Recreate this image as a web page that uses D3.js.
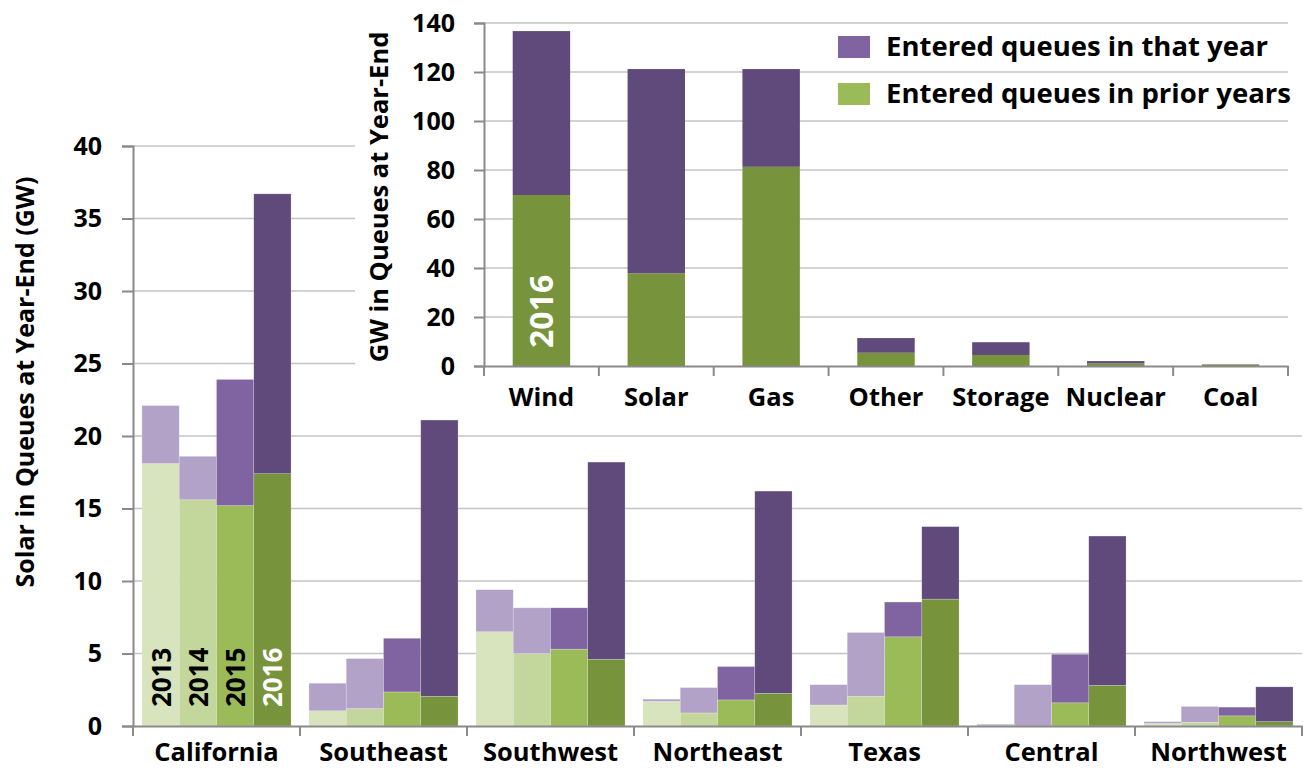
<!DOCTYPE html>
<html>
<head>
<meta charset="utf-8">
<title>Solar in Queues</title>
<style>
  body { margin: 0; background: #fff; }
  text { font-family: "Open Sans", Lato, sans-serif; font-weight: bold; fill: #000; }
</style>
</head>
<body>
<script src="https://d3js.org/d3.v7.min.js"></script>
<script>

// main chart: solar GW in queues by region and year
var regions = ["California", "Southeast", "Southwest", "Northeast", "Texas", "Central", "Northwest"];
var years = ["2013", "2014", "2015", "2016"];

// entered queues in prior years (green), one value per region
var prior2013 = [18.1, 1.05, 6.5, 1.7, 1.45, 0.02, 0.18];
var prior2014 = [15.6, 1.2, 5.0, 0.9, 2.05, 0, 0.25];
var prior2015 = [15.2, 2.35, 5.3, 1.8, 6.15, 1.6, 0.7];
var prior2016 = [17.4, 2.05, 4.6, 2.25, 8.75, 2.8, 0.3];

// entered queues in that year (purple)
var new2013 = [4.0, 1.9, 2.9, 0.15, 1.4, 0.1, 0.12];
var new2014 = [3.0, 3.45, 3.15, 1.75, 4.4, 2.85, 1.1];
var new2015 = [8.7, 3.7, 2.85, 2.3, 2.4, 3.35, 0.6];
var new2016 = [19.3, 19.05, 13.6, 13.95, 5.0, 10.3, 2.4];

var mainTicks = [0, 5, 10, 15, 20, 25, 30, 35, 40];

// inset: all resources in queues at end of 2016
var fuels = ["Wind", "Solar", "Gas", "Other", "Storage", "Nuclear", "Coal"];
var fuelPrior = [69.8, 37.8, 81.3, 5.4, 4.5, 1.1, 0.6];
var fuelNew = [66.9, 83.4, 39.9, 6.0, 5.2, 0.9, 0.1];
var insetTicks = [0, 20, 40, 60, 80, 100, 120, 140];

var greens = ["#d7e4bd", "#c3d69b", "#9bbb59", "#77933c"];
var purples = ["#b3a2c7", "#b3a2c7", "#8064a2", "#604a7b"];
var gridColor = "#c4c4c4",
    axisColor = "#8a8a8a";

var width = 1304, height = 768;

var svg = d3.select("body").append("svg")
    .attr("width", width)
    .attr("height", height);

var priors = [prior2013, prior2014, prior2015, prior2016];
var news = [new2013, new2014, new2015, new2016];

// ---------- main chart ----------
var x = d3.scaleBand().domain(regions).range([133, 1302]);
var x1 = d3.scaleBand().domain(years).range([0, x.bandwidth()]).paddingOuter(0.24);
var y = d3.scaleLinear().domain([0, 40]).range([726, 146]);

// gridlines
svg.append("g")
    .selectAll("line")
    .data(mainTicks.slice(1))
    .join("line")
    .attr("x1", 133).attr("x2", 1302)
    .attr("y1", function(d) { return y(d); })
    .attr("y2", function(d) { return y(d); })
    .attr("stroke", gridColor)
    .attr("stroke-width", 1.3);

var bars = [];
regions.forEach(function(r, i) {
    years.forEach(function(yr, j) {
        bars.push({ region: r, year: yr, j: j, prior: priors[j][i], added: news[j][i] });
    });
});

var barG = svg.append("g");
barG.selectAll("rect.prior")
    .data(bars)
    .join("rect")
    .attr("class", "prior")
    .attr("x", function(d) { return x(d.region) + x1(d.year); })
    .attr("width", x1.bandwidth())
    .attr("y", function(d) { return y(d.prior); })
    .attr("height", function(d) { return y(0) - y(d.prior); })
    .attr("fill", function(d) { return greens[d.j]; });

barG.selectAll("rect.added")
    .data(bars)
    .join("rect")
    .attr("class", "added")
    .attr("x", function(d) { return x(d.region) + x1(d.year); })
    .attr("width", x1.bandwidth())
    .attr("y", function(d) { return y(d.prior + d.added); })
    .attr("height", function(d) { return y(d.prior) - y(d.prior + d.added); })
    .attr("fill", function(d) { return purples[d.j]; });

// thin light seams between bars
barG.selectAll("rect").attr("stroke", "#ffffff").attr("stroke-opacity", 0.35).attr("stroke-width", 0.6);

// year labels inside the California bars
svg.append("g")
    .selectAll("text")
    .data(years)
    .join("text")
    .attr("transform", function(d) {
        return "translate(" + (x("California") + x1(d) + x1.bandwidth() / 2 + 10) + ",707) rotate(-90)";
    })
    .attr("font-size", 26)
    .style("fill", function(d, i) { return i == 3 ? "#fff" : "#000"; })
    .text(function(d) { return d; });

// y axis
var yAxis = svg.append("g")
    .attr("transform", "translate(133,0)")
    .call(d3.axisLeft(y).tickValues(mainTicks).tickSize(11).tickPadding(20));
yAxis.select(".domain").attr("stroke", axisColor).attr("stroke-width", 2);
yAxis.selectAll(".tick line").attr("stroke", axisColor).attr("stroke-width", 2);
yAxis.selectAll(".tick text").attr("font-size", 25).attr("font-family", "Open Sans").attr("font-weight", "bold").attr("fill", "#000");

// x axis
var xAxis = svg.append("g")
    .attr("transform", "translate(0,726)")
    .call(d3.axisBottom(x).tickSize(0).tickPadding(0));
xAxis.select(".domain").attr("stroke", axisColor).attr("stroke-width", 2);
xAxis.selectAll(".tick text").remove();
xAxis.selectAll(".sep")
    .data(regions.concat(["end"]))
    .join("line")
    .attr("class", "sep")
    .attr("x1", function(d, i) { return i < regions.length ? x(d) : x.range()[1]; })
    .attr("x2", function(d, i) { return i < regions.length ? x(d) : x.range()[1]; })
    .attr("y1", 0).attr("y2", 10)
    .attr("stroke", axisColor).attr("stroke-width", 2);

svg.append("g")
    .selectAll("text")
    .data(regions)
    .join("text")
    .attr("x", function(d) { return x(d) + x.bandwidth() / 2; })
    .attr("y", 761)
    .attr("text-anchor", "middle")
    .attr("font-size", 25.5)
    .text(function(d) { return d; });

svg.append("text")
    .attr("transform", "translate(34,382) rotate(-90)")
    .attr("text-anchor", "middle")
    .attr("font-size", 25)
    .text("Solar in Queues at Year-End (GW)");

// ---------- inset chart ----------
svg.append("rect")
    .attr("x", 355).attr("y", 0)
    .attr("width", width - 355).attr("height", 420)
    .attr("fill", "#fff");

var xi = d3.scaleBand().domain(fuels).range([484, 1288]).paddingInner(0.5).paddingOuter(0.25);
var yi = d3.scaleLinear().domain([0, 140]).range([366, 23]);

svg.append("g")
    .selectAll("line")
    .data(insetTicks.slice(1))
    .join("line")
    .attr("x1", 484).attr("x2", 1288)
    .attr("y1", function(d) { return yi(d); })
    .attr("y2", function(d) { return yi(d); })
    .attr("stroke", gridColor)
    .attr("stroke-width", 1.3);

var fuelData = fuels.map(function(f, i) { return { fuel: f, prior: fuelPrior[i], added: fuelNew[i] }; });

var insetBars = svg.append("g");
insetBars.selectAll("rect.prior")
    .data(fuelData)
    .join("rect")
    .attr("class", "prior")
    .attr("x", function(d) { return xi(d.fuel); })
    .attr("width", xi.bandwidth())
    .attr("y", function(d) { return yi(d.prior); })
    .attr("height", function(d) { return yi(0) - yi(d.prior); })
    .attr("fill", greens[3]);
insetBars.selectAll("rect.added")
    .data(fuelData)
    .join("rect")
    .attr("class", "added")
    .attr("x", function(d) { return xi(d.fuel); })
    .attr("width", xi.bandwidth())
    .attr("y", function(d) { return yi(d.prior + d.added); })
    .attr("height", function(d) { return yi(d.prior) - yi(d.prior + d.added); })
    .attr("fill", purples[3]);

svg.append("text")
    .attr("transform", "translate(" + (xi("Wind") + xi.bandwidth() / 2 + 12) + ",348) rotate(-90)")
    .attr("font-size", 32)
    .style("fill", "#fff")
    .text("2016");

var yiAxis = svg.append("g")
    .attr("transform", "translate(484,0)")
    .call(d3.axisLeft(yi).tickValues(insetTicks).tickSize(10).tickPadding(19));
yiAxis.select(".domain").attr("stroke", axisColor).attr("stroke-width", 2);
yiAxis.selectAll(".tick line").attr("stroke", axisColor).attr("stroke-width", 2);
yiAxis.selectAll(".tick text").attr("font-size", 25).attr("font-family", "Open Sans").attr("font-weight", "bold").attr("fill", "#000");

var xiAxis = svg.append("g")
    .attr("transform", "translate(0,366)")
    .call(d3.axisBottom(xi).tickSize(0));
xiAxis.select(".domain").attr("stroke", axisColor).attr("stroke-width", 2);
xiAxis.selectAll(".tick text").remove();
var step = xi.step();
xiAxis.selectAll(".sep")
    .data(fuels.concat(["end"]))
    .join("line")
    .attr("class", "sep")
    .attr("x1", function(d, i) { return 484 + i * step; })
    .attr("x2", function(d, i) { return 484 + i * step; })
    .attr("y1", 0).attr("y2", 10)
    .attr("stroke", axisColor).attr("stroke-width", 2);

svg.append("g")
    .selectAll("text")
    .data(fuels)
    .join("text")
    .attr("x", function(d) { return xi(d) + xi.bandwidth() / 2; })
    .attr("y", 406)
    .attr("text-anchor", "middle")
    .attr("font-size", 25.5)
    .text(function(d) { return d; });

svg.append("text")
    .attr("transform", "translate(388,197) rotate(-90)")
    .attr("text-anchor", "middle")
    .attr("font-size", 25.5)
    .text("GW in Queues at Year-End");

// legend
var legendItems = ["Entered queues in that year", "Entered queues in prior years"];
var legendColors = [purples[2], greens[2]];
var lg = svg.append("g").selectAll("g")
    .data(legendItems)
    .join("g")
    .attr("transform", function(d, i) { return "translate(838," + (36 + i * 47) + ")"; });
lg.append("rect")
    .attr("width", 32).attr("height", 22)
    .attr("fill", function(d, i) { return legendColors[i]; });
lg.append("text")
    .attr("x", 48).attr("y", 20)
    .attr("font-size", 27.5)
    .text(function(d) { return d; });

</script>
</body>
</html>
